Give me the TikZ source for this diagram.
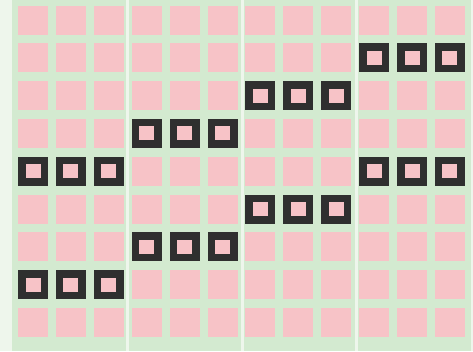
\documentclass[tikz,border=0pt]{standalone}
\definecolor{bggreen}{HTML}{D3EAD0}
\definecolor{edgewhite}{HTML}{EEF6EC}
\definecolor{cellpink}{HTML}{F7C3C7}
\definecolor{darkbox}{HTML}{2F2F2F}
\tikzset{
  cell/.style={rectangle, inner sep=0pt, minimum width=30pt, minimum height=29pt, fill=cellpink, draw=none},
  hicell/.style={rectangle, inner sep=0pt, minimum width=22.5pt, minimum height=21.5pt, fill=cellpink, draw=darkbox, line width=7.5pt, line join=miter},
  divider/.style={draw=edgewhite, line width=3pt}
}
\begin{document}
\begin{tikzpicture}[x=1pt,y=-1pt]
\useasboundingbox (0,0) rectangle (473,351);
\fill[edgewhite] (0,0) rectangle (473,351);
\fill[bggreen] (12,0) rectangle (471,351);
% group dividers
\coordinate (d1t) at (127.8,0); \coordinate (d1b) at (127.8,351);
\coordinate (d2t) at (242.5,0); \coordinate (d2b) at (242.5,351);
\coordinate (d3t) at (356.5,0); \coordinate (d3b) at (356.5,351);
\draw[divider] (d1t) -- (d1b);
\draw[divider] (d2t) -- (d2b);
\draw[divider] (d3t) -- (d3b);
% plain cells
\foreach \i in {1,...,12}{
  \foreach \r in {1,...,9}{
    \node[cell] (c-\i-\r) at ({33+37.9*(\i-1)},{20+37.8*(\r-1)}) {};
  }
}
% highlighted cells
\foreach \i/\r in {10/2,11/2,12/2, 7/3,8/3,9/3, 4/4,5/4,6/4, 1/5,2/5,3/5,10/5,11/5,12/5, 7/6,8/6,9/6, 4/7,5/7,6/7, 1/8,2/8,3/8}{
  \node[hicell] (h-\i-\r) at ({33+37.9*(\i-1)},{20+37.8*(\r-1)}) {};
}
\end{tikzpicture}
\end{document}
